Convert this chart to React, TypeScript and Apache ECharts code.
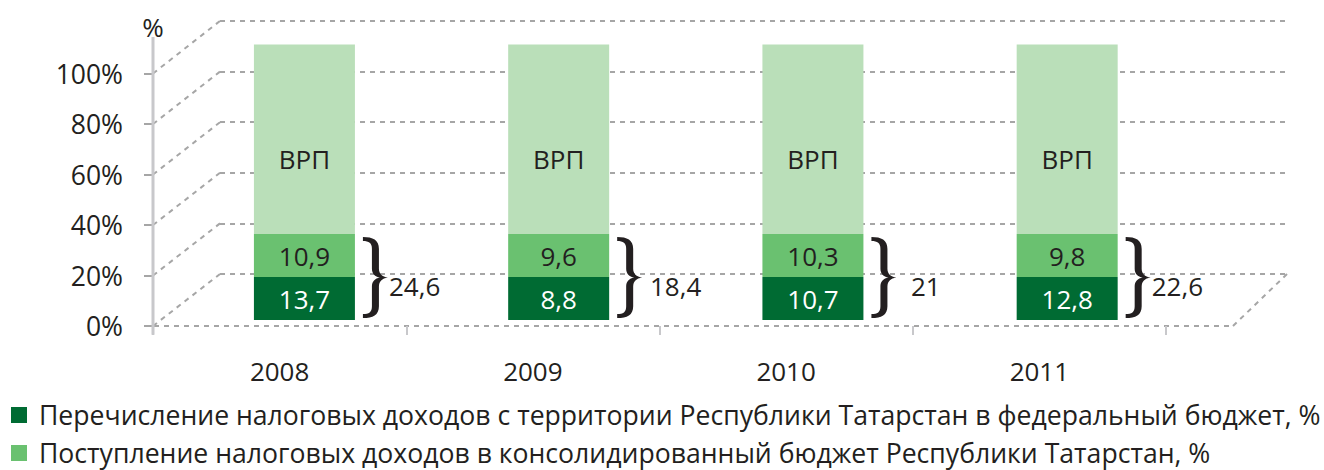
import { useEffect, useRef } from "react";
import * as echarts from "echarts";

// ---- data ----
const years = ["2008", "2009", "2010", "2011"];
// values shown in the labels
const transferToFederal = [13.7, 8.8, 10.7, 12.8];
const receiptsToRegional = [10.9, 9.6, 10.3, 9.8];
const totalLabels = ["24,6", " 18,4", "  21", "22,6"];
// segment heights as drawn in the picture (the original chart is not to scale)
const drawnTransfer = [17, 17, 17, 17];
const drawnReceipts = [17, 17, 17, 17];
const drawnGrp = [75, 75, 75, 75];
const grpLabel = "ВРП";
const yTickValues = [0, 20, 40, 60, 80, 100];
const legendTransfer =
  "Перечисление налоговых доходов с территории Республики Татарстан в федеральный бюджет, %";
const legendReceipts =
  "Поступление налоговых доходов в консолидированный бюджет Республики Татарстан, %";

// ---- style ----
const FONT = "'Open Sans', 'Noto Sans', sans-serif";
const TEXT = "#231f20";
const DARK = "#006b33";
const MID = "#6ac170";
const LIGHT = "#badfb9";
const GRID_GRAY = "#a6a6a6";
const AXIS_GRAY = "#c8c8cb";
const DASH = [5, 5];

const BRACE =
  "M0 0 C10 0 16 3 16 12 L16 32 C16 37 19 40 25 41 C19 42 16 45 16 50 L16 70 C16 79 10 82 0 82 L0 78 C6 78 9 76 9 70 L9 50 C9 45 12 42 17 41 C12 40 9 37 9 32 L9 12 C9 6 6 4 0 4 Z";

const fmt = (v: number) => String(v).replace(".", ",");

export default function App() {
  const ref = useRef<HTMLDivElement>(null);

  useEffect(() => {
    document.body.style.margin = "0";
    if (!ref.current) return;
    const chart = echarts.init(ref.current, null, { renderer: "svg" });

    const option: any = {
      animation: false,
      textStyle: { fontFamily: FONT },
      grid: [
        // back wall
        { left: 220, top: 21, width: 1067, height: 253 },
        // bars
        { left: 177.3, top: 16.8, width: 1017, height: 303.2 },
        // front axes
        { left: 153, top: 73.5, width: 1013, height: 252.5 },
      ],
      xAxis: [
        {
          gridIndex: 0,
          type: "value",
          min: 0,
          max: 1,
          show: false,
        },
        {
          gridIndex: 1,
          type: "category",
          data: years,
          show: false,
        },
        {
          gridIndex: 2,
          type: "category",
          data: years,
          axisLine: { show: false },
          axisTick: {
            show: true,
            length: 9,
            lineStyle: { color: AXIS_GRAY, width: 2 },
          },
          axisLabel: {
            margin: 32,
            fontSize: 26,
            color: TEXT,
            fontFamily: FONT,
          },
          splitLine: { show: false },
        },
      ],
      yAxis: [
        {
          gridIndex: 0,
          type: "value",
          min: 0,
          max: 100,
          interval: 20,
          axisLine: { show: false },
          axisTick: { show: false },
          axisLabel: { show: false },
          splitLine: {
            show: true,
            lineStyle: { color: GRID_GRAY, width: 2, type: DASH },
          },
        },
        {
          gridIndex: 1,
          type: "value",
          min: 0,
          max: 120,
          show: false,
          splitLine: { show: false },
        },
        {
          gridIndex: 2,
          type: "value",
          min: 0,
          max: 100,
          interval: 20,
          axisLine: { show: false },
          axisTick: {
            show: true,
            length: 9,
            lineStyle: { color: GRID_GRAY, width: 2 },
          },
          axisLabel: {
            margin: 30,
            fontSize: 26.5,
            color: TEXT,
            fontFamily: FONT,
            padding: [6, 0, 0, 0],
            formatter: "{value}%",
          },
          splitLine: { show: false },
        },
      ],
      legend: {
        data: [legendTransfer, legendReceipts],
        orient: "vertical",
        left: 11,
        top: 400,
        padding: 0,
        itemWidth: 16,
        itemHeight: 16,
        itemGap: 8,
        icon: "rect",
        selectedMode: false,
        textStyle: {
          fontSize: 26.6,
          lineHeight: 30,
          color: TEXT,
          fontFamily: FONT,
          padding: [0, 0, 0, 7],
        },
      },
      series: [
        {
          name: legendTransfer,
          type: "bar",
          stack: "total",
          xAxisIndex: 1,
          yAxisIndex: 1,
          barWidth: 101,
          data: drawnTransfer,
          itemStyle: { color: DARK },
          label: {
            show: true,
            position: "inside",
            color: "#ffffff",
            fontSize: 26,
            fontFamily: FONT,
            formatter: (p: any) => fmt(transferToFederal[p.dataIndex]),
          },
        },
        {
          name: legendReceipts,
          type: "bar",
          stack: "total",
          xAxisIndex: 1,
          yAxisIndex: 1,
          barWidth: 101,
          data: drawnReceipts,
          itemStyle: { color: MID },
          label: {
            show: true,
            position: "inside",
            color: TEXT,
            fontSize: 26,
            fontFamily: FONT,
            formatter: (p: any) => fmt(receiptsToRegional[p.dataIndex]),
          },
        },
        {
          name: grpLabel,
          type: "bar",
          stack: "total",
          xAxisIndex: 1,
          yAxisIndex: 1,
          barWidth: 101,
          data: drawnGrp,
          itemStyle: { color: LIGHT },
          label: {
            show: true,
            position: "inside",
            offset: [0, 20],
            color: TEXT,
            fontSize: 26,
            fontFamily: FONT,
            formatter: grpLabel,
          },
        },
        {
          type: "custom",
          xAxisIndex: 1,
          yAxisIndex: 1,
          silent: true,
          z: 5,
          data: years.map((_, i) => [i, drawnTransfer[i] + drawnReceipts[i]]),
          renderItem: (params: any, api: any) => {
            const idx = api.value(0);
            const base = api.coord([idx, 0]);
            const top = api.coord([idx, api.value(1)]);
            const xl = base[0] + 101 / 2 + 8;
            const yTop = top[1] + 3;
            const yBot = base[1] - 2;
            const yMid = (yTop + yBot) / 2;
            return {
              type: "group",
              children: [
                {
                  type: "path",
                  shape: {
                    pathData: BRACE,
                    x: xl,
                    y: yTop,
                    width: 25,
                    height: yBot - yTop,
                    layout: "cover",
                  },
                  style: { fill: TEXT },
                },
                {
                  type: "text",
                  style: {
                    text: totalLabels[params.dataIndex],
                    x: xl + 26,
                    y: yMid + 8,
                    align: "left",
                    verticalAlign: "middle",
                    fill: TEXT,
                    fontSize: 26,
                    fontFamily: FONT,
                  },
                },
              ],
            };
          },
        },
      ],
    };

    chart.setOption(option);

    // pseudo-3D frame derived from the axes
    const yF = (v: number) => chart.convertToPixel({ yAxisIndex: 2 }, v) as number;
    const yB = (v: number) => chart.convertToPixel({ yAxisIndex: 0 }, v) as number;
    const backLeft = chart.convertToPixel({ xAxisIndex: 0 }, 0) as number;
    const backRight = chart.convertToPixel({ xAxisIndex: 0 }, 1) as number;
    const frontLeft = 153;
    const frontRight = backRight - 54;
    const dashed = { stroke: GRID_GRAY, lineWidth: 2, lineDash: DASH };

    const elements: any[] = [];
    yTickValues.forEach((v) => {
      elements.push({
        type: "line",
        silent: true,
        z: 0,
        shape: { x1: frontLeft, y1: yF(v), x2: backLeft, y2: yB(v) },
        style: dashed,
      });
    });
    elements.push({
      type: "line",
      silent: true,
      z: 0,
      shape: { x1: frontLeft - 9, y1: yF(0), x2: frontRight, y2: yF(0) },
      style: dashed,
    });
    elements.push({
      type: "line",
      silent: true,
      z: 0,
      shape: { x1: frontRight, y1: yF(0), x2: backRight, y2: yB(0) },
      style: dashed,
    });
    elements.push({
      type: "line",
      silent: true,
      z: 1,
      shape: { x1: frontLeft, y1: yF(114.5), x2: frontLeft, y2: yF(-3.5) },
      style: { stroke: AXIS_GRAY, lineWidth: 3 },
    });
    elements.push({
      type: "text",
      silent: true,
      z: 1,
      x: frontLeft,
      y: yF(114.5) - 10,
      style: {
        text: "%",
        fill: TEXT,
        fontSize: 26,
        fontFamily: FONT,
        align: "center",
        verticalAlign: "middle",
      },
    });

    chart.setOption({ graphic: elements });

    return () => chart.dispose();
  }, []);

  return <div ref={ref} style={{ width: 1324, height: 470 }} />;
}
